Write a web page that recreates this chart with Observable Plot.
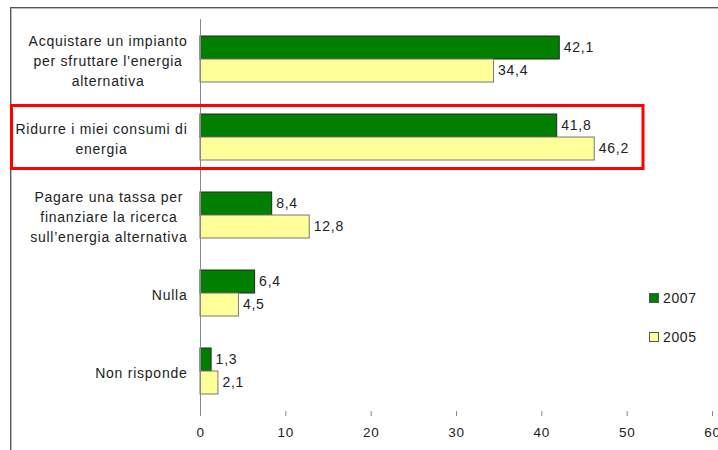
<!DOCTYPE html>
<html>
<head>
<meta charset="utf-8">
<script src="https://cdn.jsdelivr.net/npm/d3@7"></script>
<script src="https://cdn.jsdelivr.net/npm/@observablehq/plot@0.6"></script>
<style>
  html, body { margin: 0; padding: 0; background: #fff; }
  #wrap { position: relative; width: 718px; height: 450px; overflow: hidden; font-family: "Liberation Sans", Arial, sans-serif; }
  #frame { position: absolute; left: 10px; top: 7px; width: 900px; height: 700px; border: 1.5px solid #555; box-shadow: 1px 1px 0 #bbb inset; }
  #chart { position: absolute; left: 0; top: 0; }
  .legend { position: absolute; left: 649px; font-size: 14px; letter-spacing: 0.6px; color: #222; display: flex; align-items: center; }
  .legend span.sw { display: inline-block; width: 8px; height: 8px; margin-right: 4px; border: 1px solid #555; }
</style>
</head>
<body>
<div id="wrap">
  <div id="frame"></div>
  <div id="chart"></div>
</div>
<script>
const categories = [
  "Acquistare un impianto\nper sfruttare l'energia\nalternativa",
  "Ridurre i miei consumi di\nenergia",
  "Pagare una tassa per\nfinanziare la ricerca\nsull\u2019energia alternativa",
  "Nulla",
  "Non risponde"
];
const series = ["2007", "2005"];
const values2007 = [42.1, 41.8, 8.4, 6.4, 1.3];
const values2005 = [34.4, 46.2, 12.8, 4.5, 2.1];
const xTicks = [0, 10, 20, 30, 40, 50, 60];
const highlighted = "Ridurre i miei consumi di\nenergia";

const colors = {"2007": "#007f00", "2005": "#ffff99"};
const strokes = {"2007": "#1a2e1a", "2005": "#777"};

const d07 = categories.map((c, i) => ({category: c, year: "2007", value: values2007[i]}));
const d05 = categories.map((c, i) => ({category: c, year: "2005", value: values2005[i]}));
const fmt = v => v.toFixed(1).replace(".", ",");

const W = 718, H = 450;
const barH = 23;
const plot = Plot.plot({
  width: W, height: H,
  marginLeft: 200, marginRight: 6, marginTop: 19, marginBottom: 39,
  style: {fontFamily: "Liberation Sans, Arial, sans-serif", fontSize: "14px", letterSpacing: "0.75px", color: "#222", background: "transparent"},
  x: {domain: [0, 60], ticks: xTicks, label: null},
  y: {domain: categories, paddingInner: 0.413, paddingOuter: 0.2065, label: null},
  marks: [
    Plot.barX(d07, {y: "category", x: "value", fill: colors["2007"], stroke: strokes["2007"], strokeWidth: 1, insetBottom: barH}),
    Plot.barX(d05, {y: "category", x: "value", fill: colors["2005"], stroke: strokes["2005"], strokeWidth: 1, insetTop: barH}),
    Plot.text(d07, {y: "category", x: "value", text: d => fmt(d.value), dx: 4, dy: -11.5, textAnchor: "start", fill: "#222", fontSize: 14}),
    Plot.text(d05, {y: "category", x: "value", text: d => fmt(d.value), dx: 4, dy: 11.5, textAnchor: "start", fill: "#222", fontSize: 14}),
    Plot.axisX({ticks: xTicks, tickSize: 5, tickPadding: 11, stroke: "#888", fill: "#222", fontSize: 13.5, label: null}),
    Plot.ruleY([0], {frameAnchor: "bottom", stroke: "#222", strokeWidth: 1}),
    Plot.axisY({tickSize: 0, tickPadding: 13, fontSize: 14, lineHeight: 1.45, fill: "#222", label: null}),
    Plot.ruleX([0], {stroke: "#888", strokeWidth: 1})
  ]
});
document.getElementById("chart").appendChild(plot);

// center multi-line category labels within their block, right-aligned block (Excel style)
const yAxisTexts = plot.querySelectorAll("g[aria-label='y-axis tick label'] text");
yAxisTexts.forEach(t => {
  const w = t.getBBox().width;
  t.setAttribute("text-anchor", "middle");
  const tspans = t.querySelectorAll("tspan");
  if (tspans.length) tspans.forEach(s => s.setAttribute("x", -w / 2));
  else t.setAttribute("x", -w / 2);
});
plot.querySelectorAll("g[aria-label='y-axis tick label']").forEach(g => g.setAttribute("text-anchor", "middle"));

// red highlight box around the highlighted category
const yScale = plot.scale("y");
const bandTop = yScale.apply(highlighted);
const bw = yScale.bandwidth;
const svg = d3.select(plot);
svg.append("rect")
  .attr("x", 11.5).attr("y", bandTop - 8.5)
  .attr("width", 643 - 11.5).attr("height", bw + 17)
  .attr("fill", "none").attr("stroke", "#ff0000").attr("stroke-width", 3);

// legend
const wrap = document.getElementById("wrap");
const legendTops = [290, 329];
series.forEach((s, i) => {
  const el = document.createElement("div");
  el.className = "legend";
  el.style.top = legendTops[i] + "px";
  el.innerHTML = `<span class="sw" style="background:${colors[s]}"></span>${s}`;
  wrap.appendChild(el);
});
</script>
</body>
</html>
